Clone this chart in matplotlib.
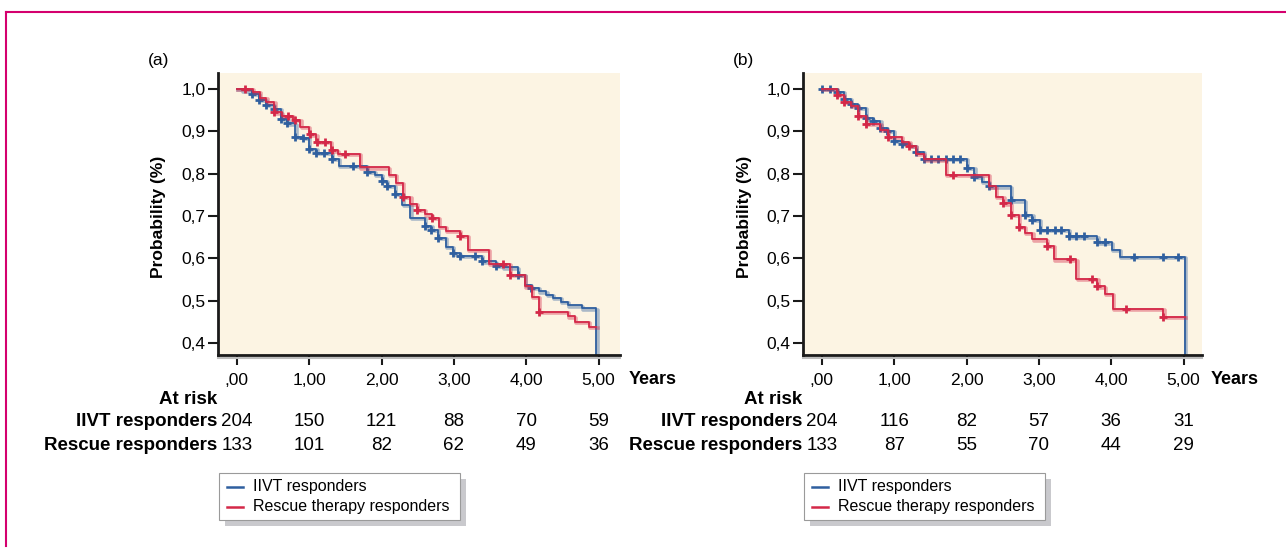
import matplotlib
matplotlib.use("Agg")
import matplotlib.pyplot as plt
import matplotlib.transforms as mtransforms
from matplotlib.lines import Line2D
from matplotlib.patches import Rectangle
import numpy as np

plt.rcParams['font.family'] = ['Liberation Sans', 'DejaVu Sans']

# ---- data ----
year_ticks = [0, 1, 2, 3, 4, 5]
year_labels = [',00', '1,00', '2,00', '3,00', '4,00', '5,00']
prob_ticks = [0.4, 0.5, 0.6, 0.7, 0.8, 0.9, 1.0]
prob_labels = ['0,4', '0,5', '0,6', '0,7', '0,8', '0,9', '1,0']
series_names = ['IIVT responders', 'Rescue therapy responders']
row_names = ['IIVT responders', 'Rescue responders']

# panel (a)
a_iivt_t = [0, 0.07, 0.21, 0.31, 0.40, 0.51, 0.61, 0.70, 0.81, 0.91, 1.00, 1.10, 1.31, 1.41, 1.80,
            1.91, 2.00, 2.08, 2.19, 2.29, 2.40, 2.60, 2.69, 2.78, 2.89, 2.99, 3.08, 3.39, 3.58, 3.68,
            3.88, 3.98, 4.07, 4.18, 4.28, 4.37, 4.48, 4.58, 4.77, 4.97]
a_iivt_s = [1.0, 0.997, 0.988, 0.974, 0.962, 0.953, 0.929, 0.919, 0.888, 0.884, 0.859, 0.850, 0.835,
            0.818, 0.805, 0.797, 0.784, 0.772, 0.752, 0.726, 0.696, 0.677, 0.667, 0.648, 0.628, 0.612,
            0.606, 0.593, 0.583, 0.579, 0.561, 0.538, 0.530, 0.522, 0.514, 0.506, 0.497, 0.489, 0.482, 0.30]
a_iivt_cens = [0.21, 0.31, 0.40, 0.51, 0.61, 0.70, 0.81, 0.91, 1.00, 1.10, 1.21, 1.31, 1.61, 1.80,
               2.00, 2.08, 2.19, 2.60, 2.69, 2.78, 2.99, 3.08, 3.29, 3.39, 3.58, 3.88, 4.07]
a_iivt_end = 4.97

a_resc_t = [0, 0.22, 0.32, 0.41, 0.52, 0.62, 0.78, 0.88, 1.00, 1.10, 1.30, 1.40, 1.70, 2.10, 2.20,
            2.30, 2.40, 2.49, 2.60, 2.70, 2.79, 2.89, 3.08, 3.19, 3.48, 3.77, 3.98, 4.08, 4.18, 4.58,
            4.67, 4.87]
a_resc_s = [1.0, 0.994, 0.980, 0.970, 0.945, 0.937, 0.927, 0.911, 0.893, 0.876, 0.855, 0.847, 0.815,
            0.797, 0.778, 0.746, 0.728, 0.715, 0.704, 0.695, 0.674, 0.665, 0.653, 0.620, 0.587, 0.561,
            0.534, 0.509, 0.473, 0.463, 0.450, 0.438]
a_resc_cens = [0.12, 0.52, 0.71, 0.81, 1.01, 1.11, 1.22, 1.31, 1.50, 2.30, 2.49, 2.70, 3.08, 3.68,
               3.77, 4.18]
a_resc_end = 4.97

a_iivt_risk = [204, 150, 121, 88, 70, 59]
a_resc_risk = [133, 101, 82, 62, 49, 36]

# panel (b)
b_iivt_t = [0, 0.21, 0.31, 0.40, 0.50, 0.61, 0.705, 0.81, 0.90, 1.00, 1.11, 1.21, 1.30, 1.41, 2.01,
            2.11, 2.21, 2.31, 2.61, 2.81, 2.91, 3.01, 3.41, 3.81, 4.01, 4.12, 5.02]
b_iivt_s = [1.0, 0.994, 0.977, 0.964, 0.956, 0.931, 0.925, 0.909, 0.902, 0.877, 0.870, 0.866, 0.852,
            0.835, 0.813, 0.793, 0.781, 0.770, 0.737, 0.703, 0.691, 0.667, 0.652, 0.638, 0.620, 0.603, 0.30]
b_iivt_cens = [0.0, 0.115, 0.21, 0.31, 0.40, 0.50, 0.61, 0.705, 0.81, 0.90, 1.00, 1.11, 1.30, 1.41,
               1.51, 1.61, 1.72, 1.82, 1.91, 2.01, 2.11, 2.31, 2.61, 2.81, 2.91, 3.01, 3.11, 3.22,
               3.31, 3.41, 3.52, 3.62, 3.81, 3.91, 4.32, 4.72, 4.92]
b_iivt_end = 5.02

b_resc_t = [0, 0.21, 0.31, 0.405, 0.50, 0.61, 0.81, 0.91, 1.11, 1.21, 1.30, 1.41, 1.72, 2.31, 2.41,
            2.51, 2.61, 2.72, 2.81, 2.91, 3.11, 3.21, 3.52, 3.81, 3.91, 4.02, 4.72]
b_resc_s = [1.0, 0.987, 0.970, 0.960, 0.936, 0.917, 0.903, 0.888, 0.875, 0.866, 0.847, 0.834, 0.797,
            0.770, 0.745, 0.730, 0.703, 0.674, 0.661, 0.645, 0.630, 0.598, 0.551, 0.534, 0.517, 0.480, 0.462]
b_resc_cens = [0.21, 0.31, 0.50, 0.61, 0.91, 1.21, 1.82, 2.51, 2.61, 2.72, 3.11, 3.43, 3.73, 3.81,
               4.21, 4.72]
b_resc_end = 5.02

b_iivt_risk = [204, 116, 82, 57, 36, 31]
b_resc_risk = [133, 87, 55, 70, 44, 29]

BLUE = '#2F5F9F'
RED = '#D42848'
W, H = 1286, 560


def fx(px):
    return px / W


def fy(py):
    return 1 - py / H


fig = plt.figure(figsize=(12.86, 5.6), dpi=100)

# magenta frame
fig.add_artist(Line2D([fx(6), 1.0], [fy(12), fy(12)], color='#D4006E', lw=1.5))
fig.add_artist(Line2D([fx(6), fx(6)], [fy(12), fy(546)], color='#D4006E', lw=1.5))


def km(ax, t, s, cens, end, color):
    x = np.append(t, end)
    y = np.append(s, s[-1])
    shift = ax.transData + mtransforms.ScaledTranslation(1.2 / 100, -1.2 / 100, fig.dpi_scale_trans)
    ax.step(x, y, where='post', color=color, lw=2.6, alpha=0.4, transform=shift)
    ax.step(x, y, where='post', color=color, lw=1.3)
    idx = np.searchsorted(t, cens, side='right') - 1
    ax.plot(cens, np.array(s)[idx], '+', color=color, ms=6, mew=2.0, ls='none')


panels = [
    ('(a)', 218, 620, (a_iivt_t, a_iivt_s, a_iivt_cens, a_iivt_end),
     (a_resc_t, a_resc_s, a_resc_cens, a_resc_end), a_iivt_risk, a_resc_risk),
    ('(b)', 803, 1202, (b_iivt_t, b_iivt_s, b_iivt_cens, b_iivt_end),
     (b_resc_t, b_resc_s, b_resc_cens, b_resc_end), b_iivt_risk, b_resc_risk),
]

for label, left, right, blue, red, risk1, risk2 in panels:
    ax = fig.add_axes([fx(left), fy(355), fx(right - left), (355 - 73) / H])
    ax.set_facecolor('#FCF4E3')
    km(ax, *blue, BLUE)
    km(ax, *red, RED)
    ax.set_xlim(-0.26, (right - left) / 72.35 - 0.26)
    ax.set_ylim(0.372, 1.038)
    for sp in ['top', 'right']:
        ax.spines[sp].set_visible(False)
    for sp in ['left', 'bottom']:
        ax.spines[sp].set_linewidth(2)
        ax.spines[sp].set_color('#1A1A1A')
    # faint grey shadow under the x axis
    ax.add_line(Line2D([0, 1], [0, 0], transform=ax.transAxes + mtransforms.ScaledTranslation(
        0, -3 / 100, fig.dpi_scale_trans), color='#BDBDBD', lw=1.5, clip_on=False))
    ax.set_xticks(year_ticks)
    ax.set_xticklabels(year_labels)
    ax.set_yticks(prob_ticks)
    ax.set_yticklabels(prob_labels)
    ax.tick_params(axis='both', direction='out', length=7, width=1.5, labelsize=12.5,
                   color='#1A1A1A')
    ax.tick_params(axis='x', pad=6)
    ax.tick_params(axis='y', pad=2)

    off = left - 218
    fig.text(fx(148 + off), fy(60), label, ha='left', va='center', fontsize=12.5)
    fig.text(fx(159 + off), fy(217), 'Probability (%)', rotation=90, ha='center', va='center',
             fontsize=12.5, fontweight='bold')
    fig.text(fx(right + 9), fy(380), 'Years', ha='left', va='center', fontsize=13, fontweight='bold')

    # at-risk table
    fig.text(fx(left - 1), fy(399), 'At risk', ha='right', va='center', fontsize=13.5, fontweight='bold')
    trans = mtransforms.blended_transform_factory(ax.transData, fig.transFigure)
    for row_y, name, counts in [(422, row_names[0], risk1), (446, row_names[1], risk2)]:
        fig.text(fx(left - 1), fy(row_y), name, ha='right', va='center', fontsize=13.5, fontweight='bold')
        for yr, n in zip(year_ticks, counts):
            ax.text(yr, fy(row_y), str(n), transform=trans, ha='center', va='center', fontsize=13.5)

    # legend box with drop shadow
    x0, x1, y0, y1 = left + 1, left + 242, 473, 520
    fig.add_artist(Rectangle((fx(x0 + 6), fy(y1 + 6)), fx(x1 - x0), (y1 - y0) / H,
                             transform=fig.transFigure, facecolor='#C9C9CD', edgecolor='none'))
    fig.add_artist(Rectangle((fx(x0), fy(y1)), fx(x1 - x0), (y1 - y0) / H,
                             transform=fig.transFigure, facecolor='white', edgecolor='#9A9A9A', lw=0.8))
    for yy, name, col in [(487, series_names[0], BLUE), (507, series_names[1], RED)]:
        fig.add_artist(Line2D([fx(x0 + 8), fx(x0 + 24)], [fy(yy), fy(yy)], color=col, lw=1.8))
        fig.text(fx(x0 + 34), fy(yy), name, ha='left', va='center', fontsize=11.5)

fig.savefig('out.png', dpi=100)
